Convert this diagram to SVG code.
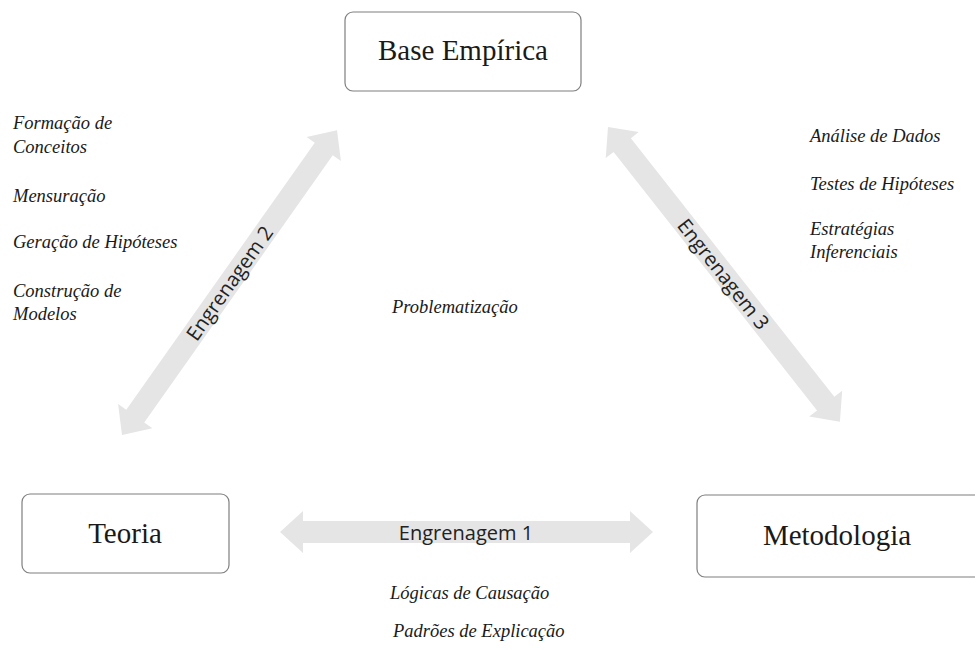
<svg xmlns="http://www.w3.org/2000/svg" width="975" height="650" viewBox="0 0 975 650">
<style>
.box{fill:#fff;stroke:#7f7f7f;stroke-width:1.2}
.title{font-family:"Liberation Serif",serif;font-size:29px;fill:#1a1a1a;text-anchor:middle}
.it{font-family:"Liberation Serif",serif;font-style:italic;font-size:18.5px;fill:#1a1a1a}
.arr{fill:#e5e5e5}
.lab{font-family:"Open Sans","Liberation Sans",sans-serif;font-size:20px;fill:#222;text-anchor:middle;dominant-baseline:central}
</style>
<rect width="975" height="650" fill="#fff"/>
<g id="connectors">
  <g id="engrenagem1" transform="translate(280,532)">
    <polygon class="arr" points="0,0 23,-21 23,-11 350,-11 350,-21 373,0 350,21 350,11 23,11 23,21"/>
    <text class="lab" x="186" y="0">Engrenagem 1</text>
  </g>
  <g id="engrenagem2" transform="translate(122,435) rotate(-54.8)">
    <polygon class="arr" points="0,0 23,-21 23,-11 350,-11 350,-21 373,0 350,21 350,11 23,11 23,21"/>
    <text class="lab" x="186" y="0">Engrenagem 2</text>
  </g>
  <g id="engrenagem3" transform="translate(608,127) rotate(51.8)">
    <polygon class="arr" points="0,0 23,-21 23,-11 352,-11 352,-21 375,0 352,21 352,11 23,11 23,21"/>
    <text class="lab" x="187" y="0">Engrenagem 3</text>
  </g>
</g>
<g id="base-empirica">
  <rect class="box" x="345" y="12" width="236" height="79" rx="8"/>
  <text class="title" x="463" y="60">Base Empírica</text>
</g>
<g id="teoria">
  <rect class="box" x="22" y="494" width="207" height="79" rx="8"/>
  <text class="title" x="125" y="543">Teoria</text>
</g>
<g id="metodologia">
  <rect class="box" x="697" y="495" width="295" height="82" rx="8"/>
  <text class="title" x="837" y="545">Metodologia</text>
</g>
<g id="notas-teoria-base">
  <text class="it" x="13" y="129">Formação de</text>
  <text class="it" x="13" y="153">Conceitos</text>
  <text class="it" x="13" y="202">Mensuração</text>
  <text class="it" x="13" y="248">Geração de Hipóteses</text>
  <text class="it" x="13" y="297">Construção de</text>
  <text class="it" x="13" y="320">Modelos</text>
</g>
<g id="notas-base-metodologia">
  <text class="it" x="810" y="142">Análise de Dados</text>
  <text class="it" x="810" y="190">Testes de Hipóteses</text>
  <text class="it" x="810" y="235">Estratégias</text>
  <text class="it" x="810" y="258">Inferenciais</text>
</g>
<g id="problematizacao">
  <text class="it" x="392" y="313">Problematização</text>
</g>
<g id="notas-teoria-metodologia">
  <text class="it" x="390" y="599">Lógicas de Causação</text>
  <text class="it" x="393" y="637">Padrões de Explicação</text>
</g>
</svg>
